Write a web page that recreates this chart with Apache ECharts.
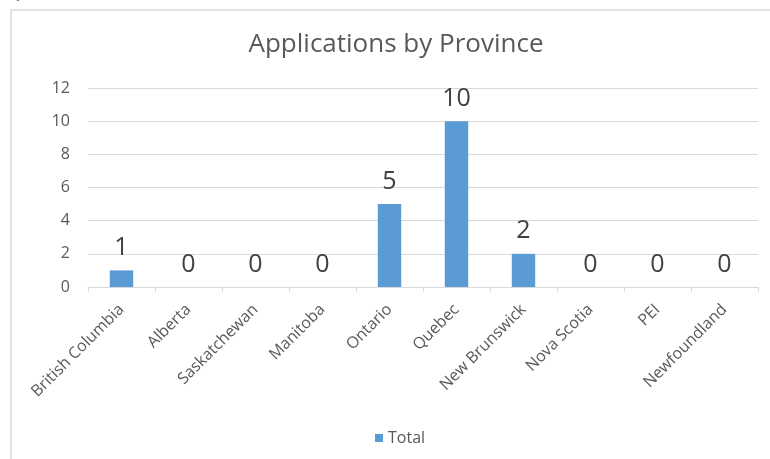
<!DOCTYPE html>
<html><head><meta charset="utf-8">
<script src="https://cdn.jsdelivr.net/npm/echarts@6/dist/echarts.min.js"></script>
<style>html,body{margin:0;padding:0;background:#fff}#c{width:770px;height:459px}</style>
</head><body><div id="c"></div>
<script>
var categories = ['British Columbia','Alberta','Saskatchewan','Manitoba','Ontario','Quebec','New Brunswick','Nova Scotia','PEI','Newfoundland'];
var totals = [1,0,0,0,5,10,2,0,0,0];
var yTicks = [0,2,4,6,8,10,12];

var chart = echarts.init(document.getElementById('c'));
chart.setOption({
  animation:false,
  backgroundColor:'#fff',
  textStyle:{fontFamily:'"Open Sans", sans-serif'},
  graphic:[
    {type:'rect',shape:{x:11,y:10,width:800,height:500},style:{fill:'none',stroke:'#d9d9d9',lineWidth:1.5},z:-1},
    {type:'text',left:8,top:-14,style:{text:'Québec:',font:'16px "Liberation Serif"',fill:'#000'}}
  ],
  title:{text:'Applications by Province',left:391,textAlign:'center',top:27,
    textStyle:{fontSize:26,fontWeight:'normal',color:'#595959',fontFamily:'"Open Sans", sans-serif'}},
  legend:{bottom:8,left:370,itemWidth:8,itemHeight:8,icon:'rect',itemGap:6,
    textStyle:{fontSize:16,color:'#595959'},data:['Total']},
  grid:{left:88,right:12,top:88,bottom:172,containLabel:false},
  xAxis:{type:'category',data:categories,
    axisLine:{lineStyle:{color:'#d9d9d9'}},
    axisTick:{show:true,alignWithLabel:false,lineStyle:{color:'#d9d9d9'},length:5},
    axisLabel:{rotate:45,color:'#595959',fontSize:16,interval:0,margin:20}},
  yAxis:{type:'value',min:0,max:12,interval:2,
    axisLine:{show:false},axisTick:{show:false},
    splitLine:{lineStyle:{color:'#d9d9d9'}},
    axisLabel:{color:'#595959',fontSize:16,margin:18,
      formatter:function(v){return yTicks.indexOf(v)>=0?String(v):'';}}},
  series:[{name:'Total',type:'bar',data:totals,barWidth:'35%',
    itemStyle:{color:'#5b9bd5'},
    label:{show:true,position:'top',distance:10,fontSize:25,color:'#404040'}}]
});
</script></body></html>
